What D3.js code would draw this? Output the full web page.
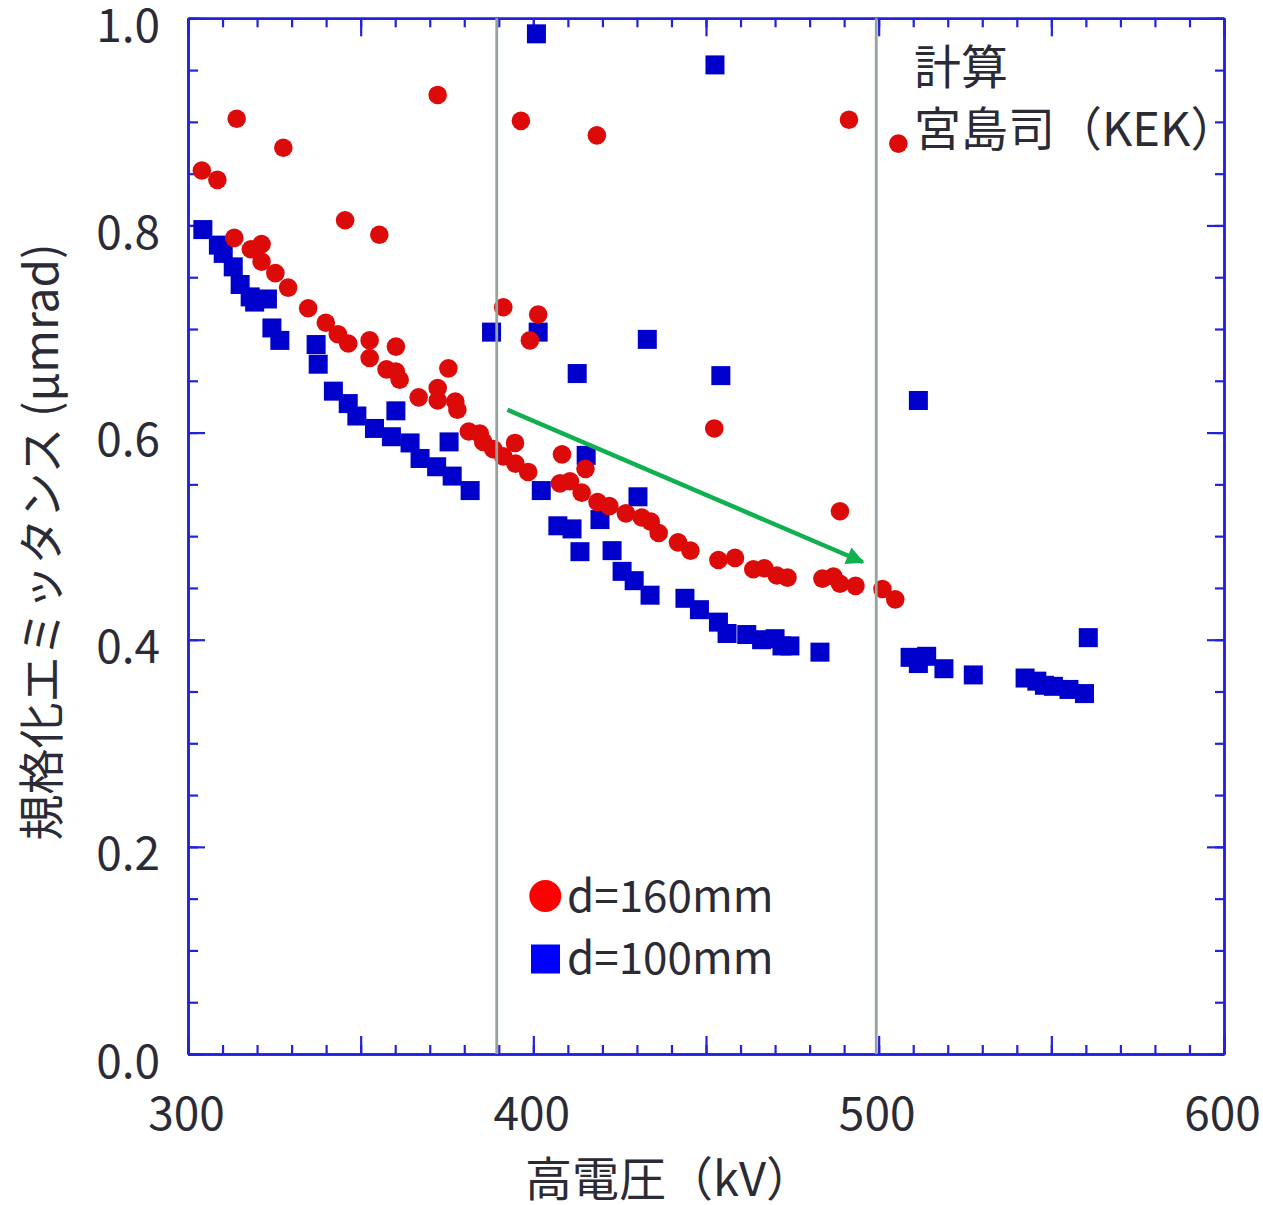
<!DOCTYPE html>
<html>
<head>
<meta charset="utf-8">
<script src="https://cdn.jsdelivr.net/npm/d3@7"></script>
<style>
  body { margin: 0; background: #fff; }
  text { font-family: "Noto Sans CJK JP", "Noto Sans", sans-serif; fill: #2b2b36; }
</style>
</head>
<body>
<div id="chart"></div>
<script>
// d=160mm (red circles): [kV, emittance]
var d160 = [
  [304.0,0.853],[308.5,0.844],[314.1,0.903],[327.6,0.875],[313.4,0.788],[318.2,0.777],
  [321.3,0.782],[321.3,0.765],[325.3,0.754],[329.0,0.740],[345.5,0.805],[355.4,0.791],
  [334.8,0.720],[339.9,0.706],[343.4,0.695],[346.4,0.686],[352.6,0.689],[352.6,0.672],
  [357.5,0.661],[360.2,0.683],[360.2,0.659],[361.3,0.651],[366.8,0.634],[372.3,0.926],
  [372.3,0.643],[372.3,0.631],[375.4,0.662],[377.4,0.630],[378.0,0.622],[381.3,0.601],
  [384.5,0.599],[385.5,0.591],[388.4,0.584],[391.3,0.577],[391.3,0.721],[394.7,0.590],
  [394.8,0.570],[396.4,0.901],[398.5,0.562],[399.0,0.689],[401.4,0.714],[408.3,0.579],
  [407.7,0.551],[410.6,0.553],[414.0,0.542],[415.1,0.565],[418.4,0.887],[418.6,0.533],
  [422.0,0.529],[426.8,0.522],[431.4,0.518],[434.0,0.514],[436.3,0.503],[441.9,0.494],
  [445.5,0.486],[452.4,0.604],[453.6,0.477],[458.4,0.479],[463.7,0.468],[466.9,0.469],
  [470.5,0.462],[473.6,0.460],[483.7,0.459],[486.9,0.461],[488.8,0.524],[491.4,0.902],
  [488.8,0.454],[493.3,0.452],[501.1,0.449],[504.8,0.439],[505.7,0.879]
];

// d=100mm (blue squares)
var d100 = [
  [304.3,0.796],[308.8,0.781],[310.2,0.773],[313.1,0.760],[315.1,0.743],[318.0,0.731],
  [319.3,0.726],[323.0,0.729],[324.3,0.701],[326.6,0.689],[337.1,0.685],[337.7,0.666],
  [342.1,0.640],[346.4,0.628],[348.9,0.616],[354.0,0.604],[358.9,0.596],[360.2,0.621],
  [364.3,0.590],[367.2,0.575],[372.0,0.567],[375.6,0.591],[376.5,0.558],[381.7,0.544],
  [387.9,0.697],[400.9,0.985],[401.4,0.697],[402.3,0.544],[412.7,0.657],[415.3,0.578],
  [407.1,0.510],[411.2,0.507],[419.3,0.516],[413.5,0.485],[422.8,0.486],[425.7,0.466],
  [429.2,0.457],[430.3,0.538],[433.0,0.690],[433.8,0.443],[443.9,0.440],[448.1,0.429],
  [452.6,0.955],[453.6,0.417],[454.3,0.655],[456.1,0.406],[461.8,0.405],[466.1,0.400],
  [470.0,0.401],[472.0,0.394],[474.3,0.394],[483.0,0.388],[509.1,0.383],[511.5,0.377],
  [511.5,0.631],[513.9,0.384],[518.9,0.372],[527.4,0.366],[542.4,0.363],[545.8,0.360],
  [548.0,0.356],[550.6,0.355],[555.1,0.352],[559.6,0.348],[560.7,0.402]
];

var xLabels = [300, 400, 500, 600];
var yLabels = [0, 0.2, 0.4, 0.6, 0.8, 1.0];
var refLines = [389.4, 499.3];           // gray vertical lines (kV)
var arrow = [[392.5, 0.622], [495.4, 0.475]];  // green trend arrow
var legendNames = ["d=160mm", "d=100mm"];
var noteLines = ["計算", "宮島司（KEK）"];

var margin = {top: 18.3, right: 39, bottom: 151, left: 188},
    width = 1263 - margin.left - margin.right,
    height = 1205 - margin.top - margin.bottom;

var axisColor = "#2222dc";

var x = d3.scaleLinear().domain([300, 600]).range([0, width]);
var y = d3.scaleLinear().domain([0, 1]).range([height, 0]);

var svg = d3.select("#chart").append("svg")
  .attr("width", 1263)
  .attr("height", 1205);

var main = svg.append("g")
  .attr("transform", "translate(" + margin.left + "," + margin.top + ")");

// ticks: minor every 10 kV / 0.05, major every 50 kV / 0.2
var xMinor = d3.range(300, 601, 10);
var xMajor = d3.range(300, 601, 50);
var yMinor = d3.range(0, 1.001, 0.05);
var yMajor = d3.range(0, 1.001, 0.2);

function styleAxis(g) {
  g.selectAll("path.domain").attr("stroke", axisColor).attr("stroke-width", 2.5);
  g.selectAll(".tick line").attr("stroke", axisColor).attr("stroke-width", 2.2);
  g.selectAll(".tick text").style("font-size", "46px").attr("fill", "#2b2b36")
    .style("font-family", "'Noto Sans CJK JP', sans-serif");
}

// bottom
main.append("g").attr("transform", "translate(0," + height + ")")
  .call(d3.axisBottom(x).tickValues(xMinor).tickSizeInner(-9).tickSizeOuter(0).tickFormat(""))
  .call(styleAxis);
main.append("g").attr("transform", "translate(0," + height + ")")
  .call(d3.axisBottom(x).tickValues(xMajor).tickSizeInner(-18).tickSizeOuter(0).tickPadding(43)
    .tickFormat(function(d) { return xLabels.indexOf(d) >= 0 ? d : ""; }))
  .call(styleAxis)
  .selectAll(".tick text").attr("dx", "-2");
// top
main.append("g")
  .call(d3.axisTop(x).tickValues(xMinor).tickSizeInner(-9).tickSizeOuter(0).tickFormat(""))
  .call(styleAxis);
main.append("g")
  .call(d3.axisTop(x).tickValues(xMajor).tickSizeInner(-18).tickSizeOuter(0).tickFormat(""))
  .call(styleAxis);
// left
main.append("g")
  .call(d3.axisLeft(y).tickValues(yMinor).tickSizeInner(-10).tickSizeOuter(0).tickFormat(""))
  .call(styleAxis);
main.append("g")
  .call(d3.axisLeft(y).tickValues(yMajor).tickSizeInner(-17).tickSizeOuter(0).tickPadding(28)
    .tickFormat(function(d) {
      var v = yLabels.find(function(l) { return Math.abs(l - d) < 1e-6; });
      return v === undefined ? "" : d3.format(".1f")(v);
    }))
  .call(styleAxis)
  .selectAll(".tick text").attr("dy", "0.5em");
// right
main.append("g").attr("transform", "translate(" + width + ",0)")
  .call(d3.axisRight(y).tickValues(yMinor).tickSizeInner(-9).tickSizeOuter(0).tickFormat(""))
  .call(styleAxis);
main.append("g").attr("transform", "translate(" + width + ",0)")
  .call(d3.axisRight(y).tickValues(yMajor).tickSizeInner(-17).tickSizeOuter(0).tickFormat(""))
  .call(styleAxis);

// blue squares first, red circles over them
var sq = 19;
main.append("g").selectAll("rect")
  .data(d100)
  .enter().append("rect")
  .attr("x", function(d) { return x(d[0]) - sq / 2; })
  .attr("y", function(d) { return y(d[1]) - sq / 2; })
  .attr("width", sq)
  .attr("height", sq)
  .attr("fill", "#0000cc");

main.append("g").selectAll("circle")
  .data(d160)
  .enter().append("circle")
  .attr("cx", function(d) { return x(d[0]); })
  .attr("cy", function(d) { return y(d[1]); })
  .attr("r", 9.3)
  .attr("fill", "#dd0a0a");

// gray reference lines
main.selectAll("line.ref")
  .data(refLines)
  .enter().append("line")
  .attr("class", "ref")
  .attr("x1", function(d) { return x(d); })
  .attr("x2", function(d) { return x(d); })
  .attr("y1", 0)
  .attr("y2", height)
  .attr("stroke", "#96a29a")
  .attr("stroke-width", 2.8);

// green arrow
svg.append("defs").append("marker")
  .attr("id", "arrowhead")
  .attr("viewBox", "0 0 10 10")
  .attr("refX", 9)
  .attr("refY", 5)
  .attr("markerUnits", "userSpaceOnUse")
  .attr("markerWidth", 22)
  .attr("markerHeight", 18)
  .attr("orient", "auto")
  .append("path")
  .attr("d", "M0,0L10,5L0,10Z")
  .attr("fill", "#10b050");

main.append("path")
  .datum(arrow)
  .attr("d", d3.line().x(function(d) { return x(d[0]); }).y(function(d) { return y(d[1]); }))
  .attr("stroke", "#10b050")
  .attr("stroke-width", 4.5)
  .attr("fill", "none")
  .attr("marker-end", "url(#arrowhead)");

// legend
var legend = svg.append("g");
legend.append("circle").attr("cx", 545.3).attr("cy", 896).attr("r", 16).attr("fill", "#ff0000");
legend.append("rect").attr("x", 531).attr("y", 944.5).attr("width", 29).attr("height", 29).attr("fill", "#0000ff");
legend.selectAll("text")
  .data(legendNames)
  .enter().append("text")
  .attr("x", 567)
  .attr("y", function(d, i) { return 911.5 + i * 62; })
  .style("font-size", "44px")
  .text(function(d) { return d; });

// note in top right
svg.selectAll("text.note")
  .data(noteLines)
  .enter().append("text")
  .attr("class", "note")
  .attr("x", 914)
  .attr("y", function(d, i) { return 84 + i * 62; })
  .style("font-size", "47px")
  .text(function(d) { return d; });

// axis titles
svg.append("text")
  .attr("text-anchor", "middle")
  .attr("x", 669)
  .attr("y", 1196)
  .style("font-size", "47px")
  .text("高電圧（kV）");

svg.append("text")
  .attr("text-anchor", "middle")
  .attr("transform", "translate(58,542)rotate(-90)")
  .style("font-size", "46px")
  .text("規格化エミッタンス (μmrad)");
</script>
</body>
</html>
